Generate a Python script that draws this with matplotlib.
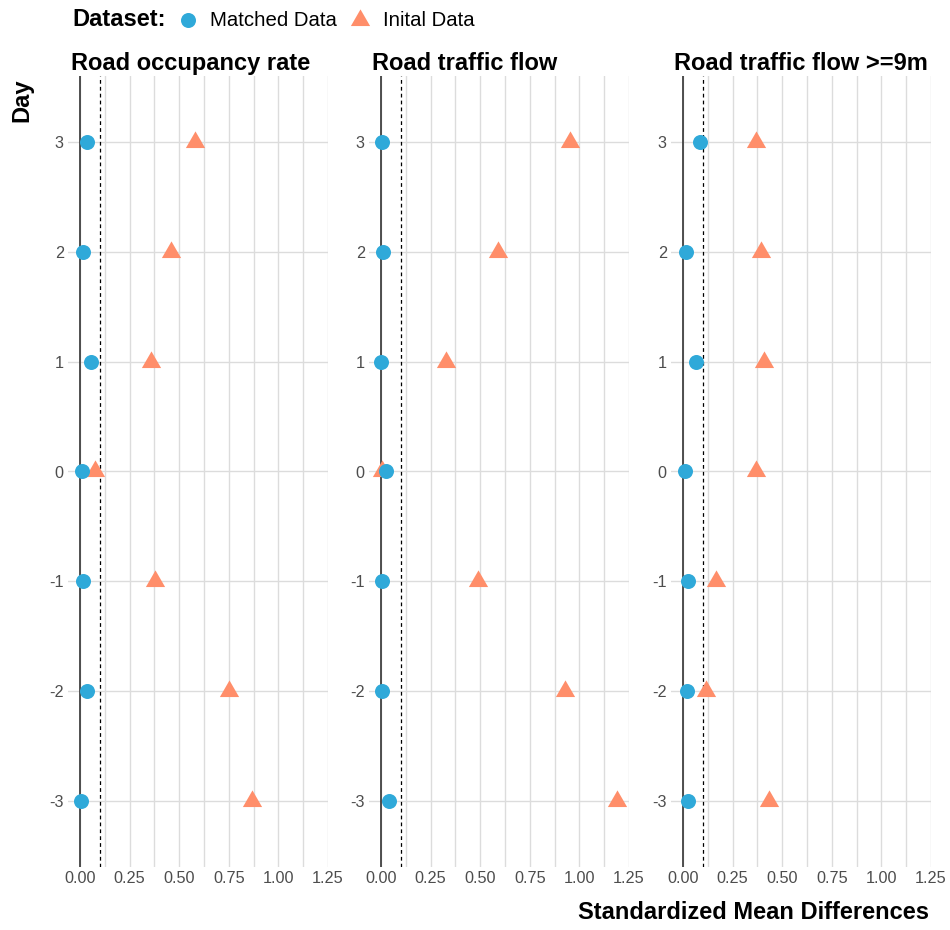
import matplotlib
matplotlib.use("Agg")
import matplotlib.pyplot as plt
from matplotlib.lines import Line2D
import numpy as np

plt.rcParams['font.family'] = ['Liberation Sans', 'DejaVu Sans']

days = [3, 2, 1, 0, -1, -2, -3]
panel_titles = ["Road occupancy rate", "Road traffic flow", "Road traffic flow >=9m"]

# standardized mean differences, one list per variable, ordered as `days`
matched_occupancy = [0.035, 0.015, 0.055, 0.010, 0.015, 0.035, 0.005]
initial_occupancy = [0.580, 0.460, 0.360, 0.075, 0.380, 0.750, 0.865]
matched_flow = [0.005, 0.010, 0.000, 0.025, 0.005, 0.005, 0.040]
initial_flow = [0.955, 0.590, 0.330, 0.008, 0.490, 0.930, 1.190]
matched_flow9 = [0.085, 0.015, 0.065, 0.010, 0.025, 0.020, 0.025]
initial_flow9 = [0.370, 0.395, 0.410, 0.370, 0.165, 0.115, 0.435]

x_ticks = [0.0, 0.25, 0.5, 0.75, 1.0, 1.25]
x_tick_labels = ["0.00", "0.25", "0.50", "0.75", "1.00", "1.25"]
threshold = 0.1

panels = [
    (matched_occupancy, initial_occupancy),
    (matched_flow, initial_flow),
    (matched_flow9, initial_flow9),
]

W, H = 950, 930
fig = plt.figure(figsize=(W / 100, H / 100), dpi=100)

c_matched = "#2FA9D9"
c_initial = "#FF8E6A"
tri = [(0, 1), (-0.866, -0.5), (0.866, -0.5)]

lefts = [68, 369, 671]
ax_w = 260
top, bottom = 76, 867

for i, (left, (m, ini)) in enumerate(zip(lefts, panels)):
    ax = fig.add_axes([left / W, 1 - bottom / H, ax_w / W, (bottom - top) / H])
    ax.set_xlim(-0.06, 1.25)
    ax.set_ylim(-3.6, 3.6)
    ax.set_xticks(x_ticks)
    ax.set_xticklabels(x_tick_labels)
    ax.set_xticks(np.arange(0.125, 1.25, 0.25), minor=True)
    ax.set_yticks(days)
    ax.set_yticklabels([str(d) for d in days])
    ax.grid(True, which="both", axis="x", color="#DCDCDC", lw=1.0)
    ax.grid(True, which="major", axis="y", color="#DCDCDC", lw=1.0)
    ax.set_axisbelow(True)
    for s in ax.spines.values():
        s.set_visible(False)
    ax.tick_params(which="both", length=0, labelsize=11.7, labelcolor="#4D4D4D")
    ax.tick_params(axis="x", pad=3)
    ax.tick_params(axis="y", pad=3)
    ax.axvline(0, color="#333333", lw=1.2, zorder=1)
    ax.axvline(threshold, color="black", lw=0.9, ls=(0, (3, 2.5)), zorder=1)
    ax.plot(ini, days, ls="none", marker=tri, ms=16, color=c_initial,
            mec="none", zorder=3)
    ax.plot(m, days, ls="none", marker="o", ms=10.8, color=c_matched,
            mec="none", zorder=4)
    ax.set_title(panel_titles[i], loc="left", fontsize=17, fontweight="bold",
                 pad=4, x=0.01)

# axis titles
fig.text(22 / W, 1 - 78 / H, "Day", rotation=90, ha="center", va="top",
         fontsize=17, fontweight="bold")
fig.text(929 / W, 1 - 912 / H, "Standardized Mean Differences", ha="right",
         va="center", fontsize=17, fontweight="bold")

# legend along the top
ly = 1 - 20 / H
fig.text(72 / W, ly, "Dataset:", ha="left", va="center", fontsize=17,
         fontweight="bold")
fig.add_artist(Line2D([188 / W], [ly], transform=fig.transFigure, ls="none",
                      marker="o", ms=10.8, color=c_matched, mec="none"))
fig.text(210 / W, ly, "Matched Data", ha="left", va="center", fontsize=14.7)
fig.add_artist(Line2D([360 / W], [ly], transform=fig.transFigure, ls="none",
                      marker=tri, ms=16, color=c_initial, mec="none"))
fig.text(383 / W, ly, "Inital Data", ha="left", va="center", fontsize=14.7)

fig.savefig("out.png", dpi=100, facecolor="white")
